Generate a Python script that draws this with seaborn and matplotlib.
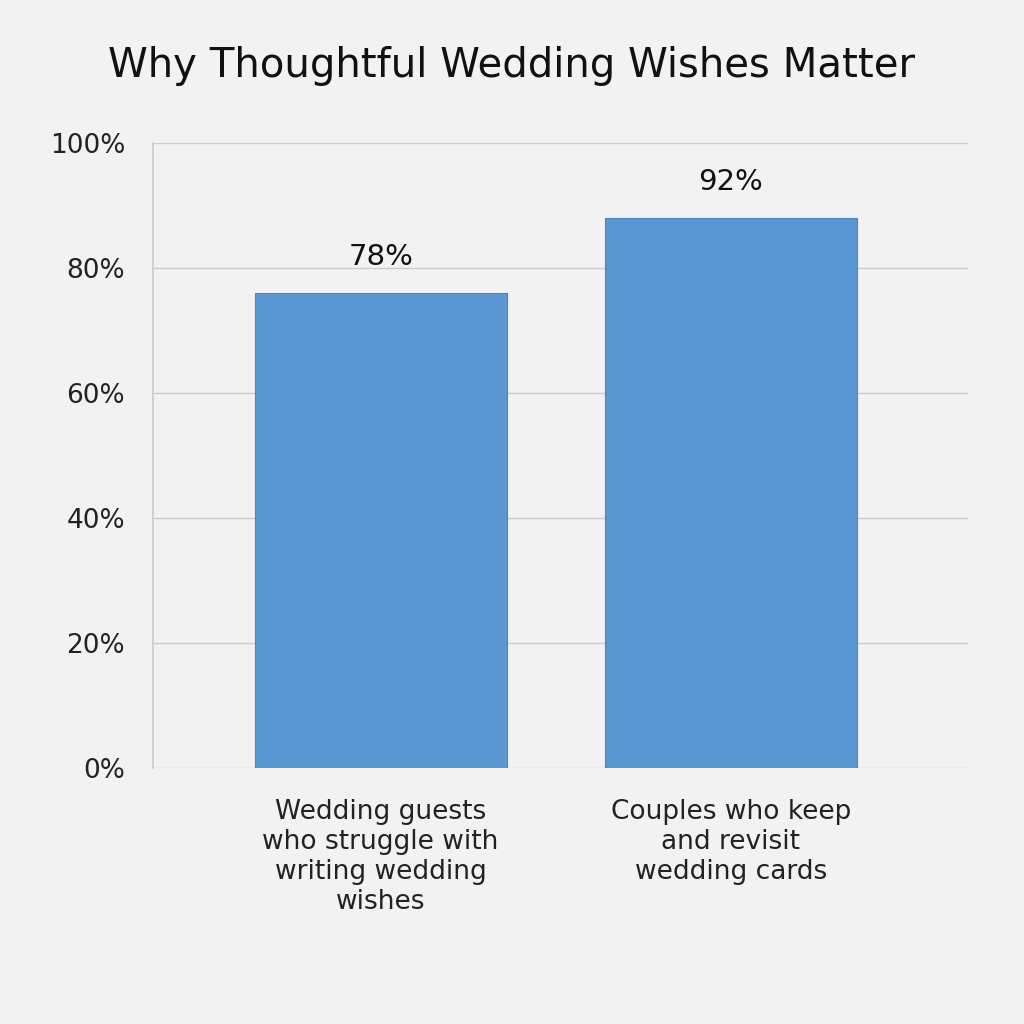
import matplotlib
matplotlib.use("Agg")
import matplotlib.pyplot as plt
import seaborn as sns
import pandas as pd
from matplotlib.patches import FancyBboxPatch

categories = ["Wedding guests\nwho struggle with\nwriting wedding\nwishes",
              "Couples who keep\nand revisit\nwedding cards"]
values = [76, 88]
value_labels = ["78%", "92%"]
yticks = [0, 20, 40, 60, 80, 100]

sns.set_theme(style="white")
plt.rcParams['font.family'] = ['DejaVu Sans']
bg = "#f2f2f2"
fig = plt.figure(figsize=(10.24, 10.24), dpi=100, facecolor=bg)
ax = fig.add_axes([153/1024, 1-768/1024, (968-153)/1024, (768-143)/1024], facecolor=bg)
df = pd.DataFrame({"cat": categories, "val": values})
sns.barplot(data=df, x="cat", y="val", color="#5b97d3", saturation=1, width=0.72, ax=ax)
for p in ax.patches:
    p.set_edgecolor("#4a86c4"); p.set_linewidth(0.8)
ax.set_xlim(-0.65, 1.677)
ax.set_ylim(0, 100)
ax.set_yticks(yticks)
ax.set_yticklabels([f"{t}%" for t in yticks], fontsize=19, color="#222222")
ax.yaxis.grid(True, color="#cccccc", linewidth=1)
ax.set_axisbelow(True)
ax.tick_params(axis="x", labelsize=19, colors="#222222", pad=22)
ax.tick_params(axis="y", pad=20, length=0)
ax.tick_params(axis="x", length=0)
ax.set_xlabel(""); ax.set_ylabel("")
for s in ["top", "right", "bottom"]:
    ax.spines[s].set_visible(False)
ax.spines["left"].set_color("#cccccc")
for i, (v, lab) in enumerate(zip(values, value_labels)):
    ax.text(i, v + 3.5, lab, ha="center", va="bottom", fontsize=21, color="#111111")
fig.text(0.5, 1-66/1024, "Why Thoughtful Wedding Wishes Matter", ha="center", va="center",
         fontsize=29, color="#111111")
fig.savefig("out.png", facecolor=bg)
